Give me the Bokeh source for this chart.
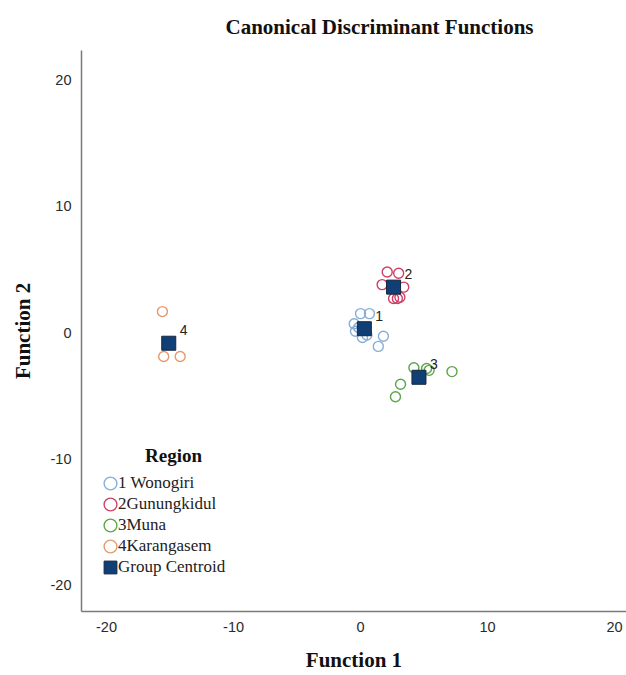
from bokeh.plotting import figure
from bokeh.models import (ColumnDataSource, FixedTicker, Legend, LegendItem,
                          Label, Range1d)
from bokeh.core.properties import value
from bokeh.embed import file_html
from bokeh.resources import INLINE

# Canonical discriminant scores per case (Function 1, Function 2)
wonogiri_f1 = [0.0, 0.7, -0.5, -0.4, 0.5, 1.8, 1.4, -0.15, 0.15]
wonogiri_f2 = [1.5, 1.5, 0.7, 0.1, -0.2, -0.3, -1.1, 0.4, -0.4]

gunungkidul_f1 = [2.1, 3.0, 1.7, 3.4, 2.6, 2.9, 3.1]
gunungkidul_f2 = [4.8, 4.7, 3.8, 3.6, 2.7, 2.7, 2.8]

muna_f1 = [4.2, 5.2, 7.2, 3.15, 2.75, 5.4]
muna_f2 = [-2.8, -2.85, -3.1, -4.1, -5.1, -3.0]

karangasem_f1 = [-15.6, -15.5, -14.2]
karangasem_f2 = [1.66, -1.9, -1.9]

# Group centroids
centroid_f1 = [0.3, 2.6, 4.6, -15.1]
centroid_f2 = [0.3, 3.6, -3.55, -0.85]
centroid_id = ["1", "2", "3", "4"]

group_names = ["1 Wonogiri", "2Gunungkidul", "3Muna", "4Karangasem"]
group_colors = ["#86AED6", "#CF3F66", "#5BA648", "#E6996D"]
centroid_name = "Group Centroid"
centroid_color = "#0F3F75"

tick_values = [-20, -10, 0, 10, 20]
tick_labels = {t: str(t) for t in tick_values}  # plain hyphen for negatives

serif = "Liberation Serif"
sans = "Liberation Sans"

p = figure(width=626, height=675, output_backend="svg", toolbar_location=None,
           x_range=Range1d(-21.97, 20.94), y_range=Range1d(-22.13, 22.37),
           min_border_left=81, min_border_right=0, min_border_top=48,
           min_border_bottom=64)
p.outline_line_color = None
p.grid.visible = False
p.background_fill_color = "white"

p.title.text = "Canonical Discriminant Functions"
p.title.align = "left"
p.title.offset = 144
p.title.text_font = serif
p.title.text_font_style = "bold"
p.title.text_font_size = "21px"
p.title.text_color = "#111111"
p.title.standoff = 24

for ax in (p.xaxis[0], p.yaxis[0]):
    ax.ticker = FixedTicker(ticks=tick_values)
    ax.major_label_overrides = tick_labels
    ax.major_tick_line_color = None
    ax.minor_tick_line_color = None
    ax.axis_line_color = "#7a7a7a"
    ax.axis_line_width = 1.5
    ax.major_label_text_font = sans
    ax.major_label_text_font_size = "14.5px"
    ax.major_label_text_color = "#2a2a2a"
    ax.axis_label_text_font = serif
    ax.axis_label_text_font_style = "bold"
    ax.axis_label_text_font_size = "21px"
    ax.axis_label_text_color = "#111111"

p.xaxis.axis_label = "Function 1"
p.xaxis.major_label_standoff = 4
p.xaxis.axis_label_standoff = 13
p.yaxis.axis_label = "Function 2"
p.yaxis.major_label_standoff = 4
p.yaxis.axis_label_standoff = 13

groups = [
    (wonogiri_f1, wonogiri_f2),
    (gunungkidul_f1, gunungkidul_f2),
    (muna_f1, muna_f2),
    (karangasem_f1, karangasem_f2),
]

renderers = []
for (fx, fy), color in zip(groups, group_colors):
    src = ColumnDataSource(data=dict(x=fx, y=fy))
    r = p.ellipse("x", "y", source=src, width=10, height=10,
                  width_units="screen", height_units="screen",
                  fill_color=None, line_color=color, line_width=1.4)
    renderers.append(r)

csrc = ColumnDataSource(data=dict(x=centroid_f1, y=centroid_f2, label=centroid_id))
rc = p.rect("x", "y", source=csrc, width=14, height=14,
            width_units="screen", height_units="screen",
            fill_color=centroid_color, line_color="#16263d", line_width=1)
p.text("x", "y", text="label", source=csrc, x_offset=11, y_offset=-13,
       text_font=value(sans), text_font_size="14px", text_color="#222222",
       text_align="left", text_baseline="middle")

items = [LegendItem(label=n, renderers=[r]) for n, r in zip(group_names, renderers)]
items.append(LegendItem(label=centroid_name, renderers=[rc]))
legend = Legend(items=items, location=(21, 34), orientation="vertical",
                glyph_width=16, glyph_height=16, spacing=1, label_standoff=0,
                padding=0, margin=0, background_fill_alpha=0,
                border_line_color=None, label_text_font=serif,
                label_text_font_size="17px", label_text_color="#222222",
                label_height=16)
p.add_layout(legend, "center")

p.add_layout(Label(x=92, y=156, x_units="screen", y_units="screen",
                   text="Region", text_font=serif, text_font_style="bold",
                   text_font_size="19px", text_color="#111111",
                   text_align="center", text_baseline="middle"))

open("out.html", "w").write(file_html(p, INLINE))
